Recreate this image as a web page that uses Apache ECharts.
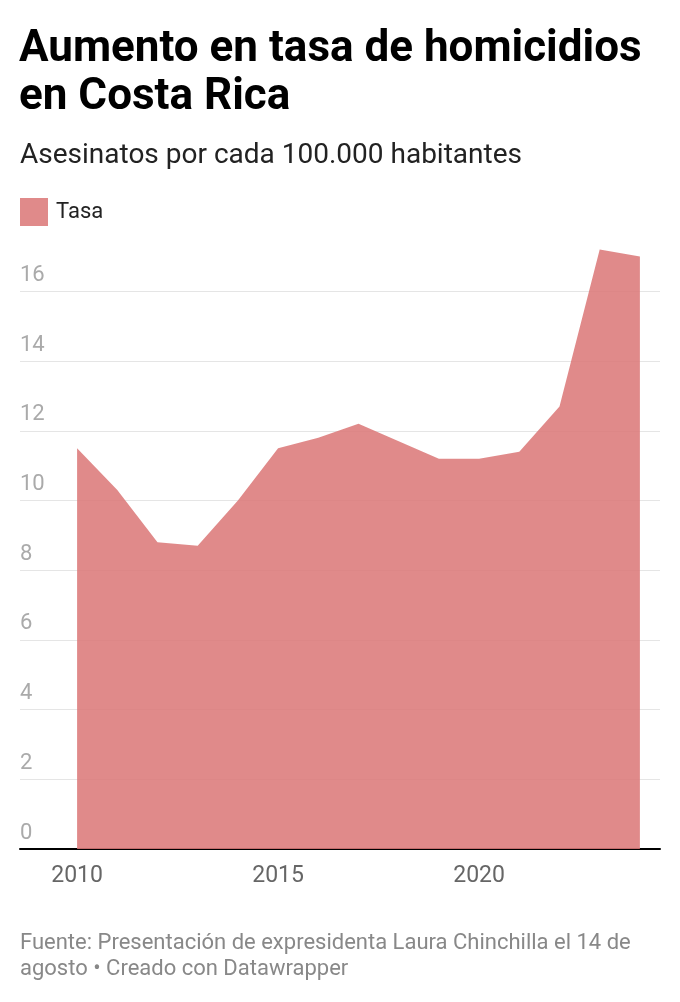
<!DOCTYPE html>
<html>
<head>
<meta charset="utf-8">
<title>Aumento en tasa de homicidios en Costa Rica</title>
<script src="https://cdn.jsdelivr.net/npm/echarts@6/dist/echarts.min.js"></script>
<style>
    html, body { margin: 0; padding: 0; background: #fff; }
    #chart { width: 680px; height: 1002px; }
</style>
</head>
<body>
<div id="chart"></div>
<script>
// datos: asesinatos por cada 100.000 habitantes
var years = [2010, 2011, 2012, 2013, 2014, 2015, 2016, 2017, 2018, 2019, 2020, 2021, 2022, 2023, 2024];
var tasa = [11.5, 10.3, 8.8, 8.7, 10.0, 11.5, 11.8, 12.2, 11.7, 11.2, 11.2, 11.4, 12.7, 17.2, 17.0];
var xTicks = [2010, 2015, 2020];
var yTicks = [0, 2, 4, 6, 8, 10, 12, 14, 16];

var chart = echarts.init(document.getElementById('chart'));

var font = 'Roboto, "Noto Sans", sans-serif';

// una linea de rejilla por tick; la de 18 (tope) queda invisible
var gridColors = yTicks.map(function () { return 'rgba(0,0,0,0.1)'; });
gridColors.push('rgba(0,0,0,0)');

var option = {
    backgroundColor: '#fff',
    animation: false,
    textStyle: { fontFamily: font },
    title: [{
        // titulo
        text: 'Aumento en tasa de homicidios\nen Costa Rica',
        left: 19,
        top: 26,
        padding: 0,
        textStyle: { fontFamily: font, fontSize: 44, fontWeight: 'bold', color: '#000', lineHeight: 48 }
    }, {
        // subtitulo
        text: 'Asesinatos por cada 100.000 habitantes',
        left: 20,
        top: 142,
        padding: 0,
        textStyle: { fontFamily: font, fontSize: 28, fontWeight: 'normal', color: '#222', lineHeight: 28 }
    }, {
        // nota de fuente
        text: 'Fuente: Presentación de expresidenta Laura Chinchilla el 14 de\nagosto • Creado con Datawrapper',
        left: 20,
        top: 930,
        padding: 0,
        textStyle: { fontFamily: font, fontSize: 22, fontWeight: 'normal', color: '#888', lineHeight: 26 }
    }],
    legend: {
        data: ['Tasa'],
        left: 20,
        top: 198,
        padding: 0,
        icon: 'rect',
        itemWidth: 28,
        itemHeight: 28,
        itemGap: 8,
        textStyle: { fontFamily: font, fontSize: 22, color: '#222', padding: [0, 0, 0, 3] }
    },
    grid: {
        left: 20,
        right: 20,
        top: 849 - 9 * 69.7,
        bottom: 1002 - 849
    },
    xAxis: {
        type: 'value',
        min: 2008.58,
        max: 2024.5,
        axisLine: { show: true, onZero: false, lineStyle: { color: '#000', width: 2 } },
        axisTick: { show: false },
        splitLine: { show: false },
        axisLabel: {
            customValues: xTicks,
            fontFamily: font,
            fontSize: 23,
            color: '#666',
            margin: 16,
            formatter: function (v) { return String(v); }
        }
    },
    yAxis: {
        type: 'value',
        min: 0,
        max: 18,
        interval: 2,
        axisLine: { show: false },
        axisTick: { show: false },
        splitLine: { show: true, lineStyle: { color: gridColors, width: 1 } },
        axisLabel: {
            inside: true,
            margin: 0,
            align: 'left',
            verticalAlign: 'bottom',
            padding: [0, 0, 5, 0],
            fontFamily: font,
            fontSize: 22,
            color: '#aaa',
            formatter: function (v) { return v >= 18 ? '' : String(v); }
        }
    },
    series: [{
        name: 'Tasa',
        type: 'line',
        data: years.map(function (y, i) { return [y, tasa[i]]; }),
        showSymbol: false,
        symbol: 'none',
        color: '#e08a8a',
        lineStyle: { width: 0 },
        areaStyle: { color: 'rgb(220,122,122)', opacity: 0.88 },
        z: 2
    }]
};

chart.setOption(option);
</script>
</body>
</html>
